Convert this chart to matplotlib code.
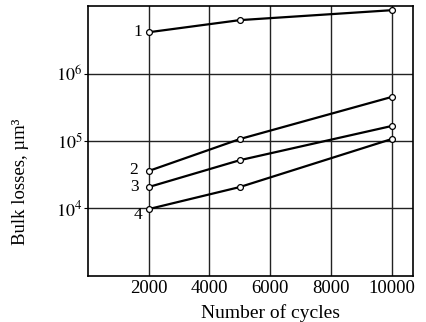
import matplotlib
matplotlib.use("Agg")
import matplotlib.pyplot as plt
from matplotlib.ticker import FixedLocator, FixedFormatter, NullLocator

plt.rcParams['font.family'] = ['Liberation Serif', 'DejaVu Serif']
plt.rcParams['mathtext.fontset'] = 'stix'

cycles = [2000, 5000, 10000]
curve1 = [4.1e6, 6.2e6, 8.7e6]
curve2 = [3.6e4, 1.07e5, 4.5e5]
curve3 = [2.08e4, 5.2e4, 1.67e5]
curve4 = [9.8e3, 2.08e4, 1.07e5]
curves = [curve1, curve2, curve3, curve4]
curve_names = ['1', '2', '3', '4']

xticks = [2000, 4000, 6000, 8000, 10000]
yticks = [1e4, 1e5, 1e6]
ytick_labels = ['$10^4$', '$10^5$', '$10^6$']

fig = plt.figure(figsize=(4.27, 3.22), dpi=100)
ax = fig.add_axes([0.206, 0.143, 0.761, 0.838])

for vals in curves:
    ax.plot(cycles, vals, color='black', lw=1.6, marker='o', ms=4.2,
            mfc='white', mec='black', mew=0.9, zorder=3)

# curve numbers to the left of the first point
offsets = [(-8, 0), (-11, 1), (-10, 0), (-8, -4)]
for name, vals, (dx, dy) in zip(curve_names, curves, offsets):
    ax.annotate(name, (cycles[0], vals[0]), xytext=(dx, dy),
                textcoords='offset points', ha='center', va='center',
                fontsize=12.5)

ax.set_yscale('log')
ax.set_xlim(0, 10700)
ax.set_ylim(1e3, 1e7)

ax.xaxis.set_major_locator(FixedLocator(xticks))
ax.yaxis.set_major_locator(FixedLocator(yticks))
ax.yaxis.set_major_formatter(FixedFormatter(ytick_labels))
ax.yaxis.set_minor_locator(NullLocator())

ax.grid(True, color='#222222', lw=1.0)
ax.tick_params(axis='x', direction='in', length=0, labelsize=13.5, pad=3)
ax.tick_params(axis='y', direction='out', length=3, labelsize=13, pad=1)
for s in ax.spines.values():
    s.set_linewidth(1.2)

ax.set_xlabel('Number of cycles', fontsize=14)
ax.xaxis.set_label_coords(0.563, -0.105)
ax.set_ylabel('Bulk losses, µm³', fontsize=13.5)
ax.yaxis.set_label_coords(-0.18, 0.35)

fig.savefig('out.png', dpi=100)
